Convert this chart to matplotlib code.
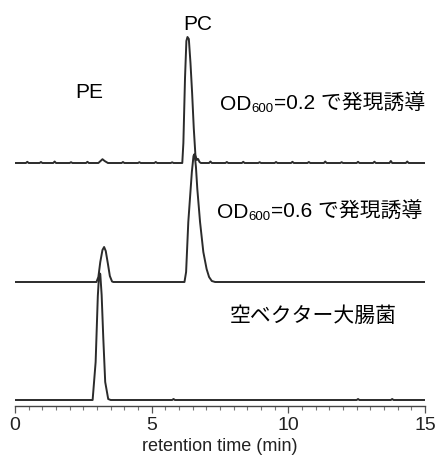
import matplotlib
matplotlib.use('Agg')
import matplotlib.pyplot as plt
from matplotlib.ticker import MultipleLocator

FONTS = ['Liberation Sans', 'Noto Sans CJK JP']
plt.rcParams['font.family'] = FONTS

# trace 1: OD600=0.2 induction (noisy baseline, small PE, big PC)
t_od02 = [0.0, 0.4, 0.45, 0.5, 0.9, 0.95, 1.0, 1.4, 1.45, 1.5, 2.0, 2.05, 2.1,
          2.6, 2.65, 2.7, 3.05, 3.15, 3.2, 3.28, 3.4, 3.9, 3.95, 4.0, 4.5,
          4.55, 4.6, 5.1, 5.15, 5.2, 5.7, 5.75, 5.8, 6.1, 6.12, 6.16, 6.22,
          6.27, 6.31, 6.36, 6.42, 6.48, 6.54, 6.6, 6.65, 6.7, 6.75, 6.8, 7.1,
          7.15, 7.2, 7.7, 7.75, 7.8, 8.3, 8.35, 8.4, 8.9, 8.95, 9.0, 9.5,
          9.55, 9.6, 10.1, 10.15, 10.2, 10.7, 10.75, 10.8, 11.3, 11.35, 11.4,
          11.9, 11.95, 12.0, 12.5, 12.55, 12.6, 13.1, 13.15, 13.2, 13.7,
          13.75, 13.8, 14.3, 14.35, 14.4, 15.0]
y_od02 = [0, 0, 1.2, 0, 0, 1.0, 0, 0, 1.5, 0, 0, 0.8, 0,
          0, 1.2, 0, 0, 2.5, 3.8, 2.0, 0, 0, 1.0, 0, 0,
          0.8, 0, 0, 1.0, 0, 0, 0.7, 0, 0, 0, 20, 85,
          122, 126, 124, 100, 70, 35, 8, 3, 4, 1, 0, 0,
          1.5, 0, 0, 1.0, 0, 0, 1.2, 0, 0, 0.8, 0, 0,
          1.0, 0, 0, 1.2, 0, 0, 1.0, 0, 0, 1.5, 0,
          0, 0.8, 0, 0, 1.2, 0, 0, 1.3, 0, 0,
          2.0, 0, 0, 1.5, 0, 0]

# trace 2: OD600=0.6 induction
t_od06 = [0.0, 2.98, 3.05, 3.12, 3.2, 3.26, 3.32, 3.4, 3.47, 3.55, 3.6,
          6.2, 6.26, 6.34, 6.47, 6.53, 6.57, 6.62, 6.67, 6.77, 6.89, 7.01,
          7.1, 7.2, 7.32, 15.0]
y_od06 = [0, 0, 5, 20, 32, 35, 31, 18, 6, 0.5, 0,
          0, 10, 60, 110, 126, 128, 115, 93, 60, 30, 13,
          5, 1, 0, 0]

# trace 3: empty vector E. coli
t_empty = [0.0, 2.84, 2.95, 3.03, 3.08, 3.12, 3.17, 3.23, 3.3, 3.41, 3.5,
           5.75, 5.8, 5.85, 12.5, 12.55, 12.6, 13.75, 13.8, 13.85, 15.0]
y_empty = [0, 0, 38, 104, 127, 126, 105, 62, 18, 1, 0,
           0, 1, 0, 0, 1, 0, 0, 1, 0, 0]

traces = [(t_empty, y_empty, 6), (t_od06, y_od06, 124), (t_od02, y_od02, 243)]

fig = plt.figure(figsize=(4.38, 4.56), dpi=100)
ax = fig.add_axes([15 / 438, 49 / 456, 410 / 438, 407 / 456])

line_color = '#2b2b2b'
for t, y, base in traces:
    ax.plot(t, [v + base for v in y], color=line_color, lw=1.4,
            solid_joinstyle='round')

ax.set_xlim(0, 15)
ax.set_ylim(0, 407)
for side in ['top', 'right', 'left']:
    ax.spines[side].set_visible(False)
ax.spines['bottom'].set_color('#444444')
ax.spines['bottom'].set_linewidth(1.0)
ax.set_yticks([])
ax.xaxis.set_major_locator(MultipleLocator(5))
ax.xaxis.set_minor_locator(MultipleLocator(0.5))
ax.tick_params(axis='x', which='major', length=5, width=0.9, color='#555555',
               pad=2, labelsize=14, labelcolor='#222222')
ax.tick_params(axis='x', which='minor', length=3, width=0.8, color='#777777')
ax.set_xlabel('retention time (min)', fontsize=13, color='#222222', labelpad=3)

txt = dict(fontsize=15, color='black', family=FONTS)
ax.text(6.7, 377, 'PC', ha='center', va='baseline', **txt)
ax.text(2.71, 309, 'PE', ha='center', va='baseline', **txt)


def od_label(x, y, rest):
    t1 = ax.text(x, y, 'OD', ha='left', va='baseline', **txt)
    t2 = ax.annotate('600', xy=(1, y), xycoords=(t1, 'data'),
                     xytext=(0.3, -1.2), textcoords='offset points',
                     ha='left', va='baseline', fontsize=9.5, family=FONTS)
    ax.annotate(rest, xy=(1, y), xycoords=(t2, 'data'),
                xytext=(0.3, 0), textcoords='offset points',
                ha='left', va='baseline', **txt)


od_label(7.5, 297, '=0.2 で発現誘導')
od_label(7.39, 189, '=0.6 で発現誘導')
ax.text(7.87, 91, '空ベクター大腸菌', ha='left', va='center', **txt)

fig.savefig('out.png', dpi=100)
